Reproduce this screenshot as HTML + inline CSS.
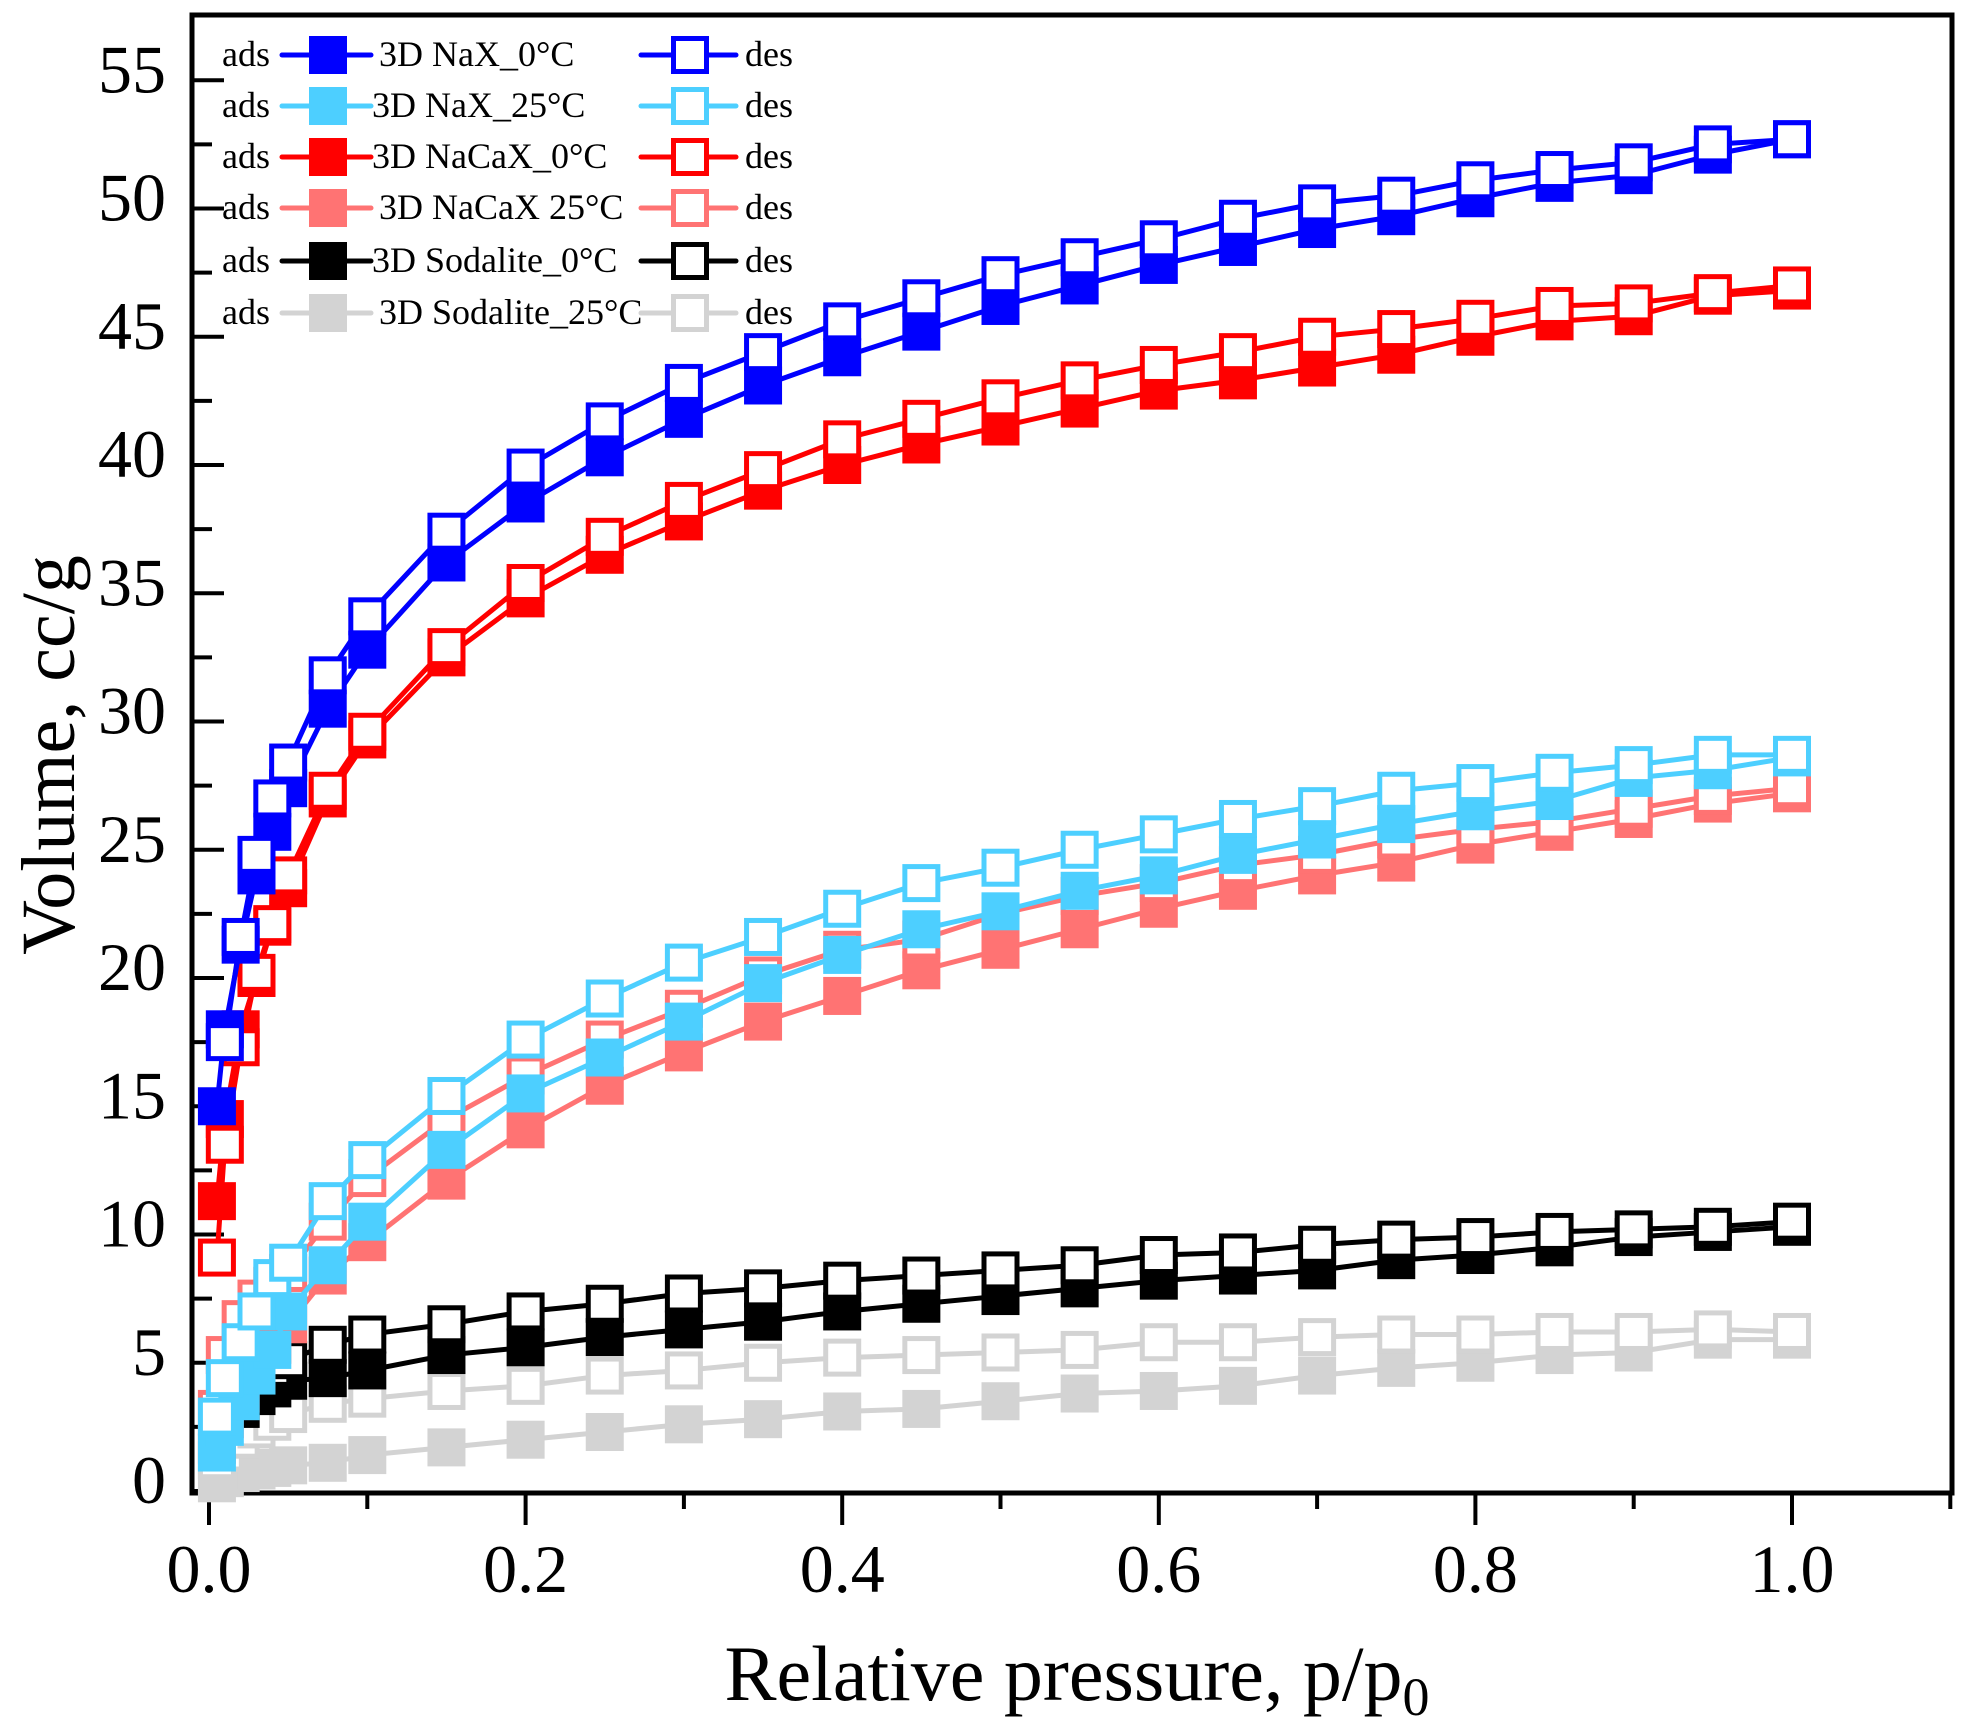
<!DOCTYPE html>
<html><head><meta charset="utf-8"><style>
html,body{margin:0;padding:0;background:#fff;}
svg{display:block;font-family:"Liberation Serif",serif;}
</style></head><body>
<svg id="chart" width="1965" height="1722" viewBox="0 0 1965 1722" xmlns="http://www.w3.org/2000/svg">
<g id="axes"></g>
<g id="plot"></g>
<g id="legend"></g>
<text x="1077" y="1700" font-size="78" text-anchor="middle">Relative pressure, p/p<tspan font-size="54" dy="15">0</tspan></text>
<text transform="translate(74,755) rotate(-90)" font-size="76" text-anchor="middle">Volume, cc/g</text>
</svg>
<script>
const xVals = [0.005,0.01,0.02,0.03,0.04,0.05,0.075,0.1,0.15,0.2,0.25,0.3,0.35,0.4,0.45,0.5,0.55,0.6,0.65,0.7,0.75,0.8,0.85,0.9,0.95,1.0];
const naX0Ads = [15,18,21.3,24,25.7,27.4,30.5,32.8,36.2,38.5,40.3,41.8,43.1,44.2,45.2,46.2,47,47.8,48.5,49.2,49.7,50.4,51,51.3,52.1,52.7];
const naX0Des = [null,17.5,21.6,24.8,27,28.4,31.8,34.1,37.4,39.9,41.7,43.2,44.4,45.6,46.5,47.4,48.1,48.8,49.6,50.2,50.5,51.1,51.5,51.8,52.5,52.7];
const naX25Ads = [1.5,2.5,3.5,4.5,5.5,7,8.8,10.5,13.3,15.5,16.9,18.3,19.8,20.9,21.9,22.6,23.4,24,24.8,25.4,26,26.5,26.9,27.8,28.1,28.6];
const naX25Des = [2.9,4.4,5.8,7.0,8.3,8.9,11.3,12.9,15.4,17.6,19.2,20.6,21.6,22.7,23.7,24.3,25,25.6,26.2,26.7,27.3,27.6,28,28.3,28.7,28.7];
const naCaX0Ads = [11.3,14.5,18,20,22,23.5,27,29.3,32.5,34.8,36.5,37.8,39,40,40.8,41.5,42.2,42.9,43.3,43.8,44.3,45,45.6,45.8,46.6,46.8];
const naCaX0Des = [9.1,13.5,17.3,20.2,22.1,24,27.3,29.6,32.9,35.4,37.2,38.6,39.8,41,41.8,42.6,43.3,43.9,44.4,45,45.3,45.7,46.2,46.3,46.7,47.0];
const naCaX25Ads = [1.8,2.8,3.8,4.8,5.7,6.5,8.4,9.7,12.1,14.1,15.8,17.1,18.3,19.3,20.3,21.1,21.9,22.7,23.4,24,24.5,25.2,25.7,26.2,26.8,27.2];
const naCaX25Des = [3.2,5.3,6.7,7.5,8,8.5,10.5,12.2,14.5,16.2,17.6,18.8,20.1,21.1,21.5,22.5,23.2,23.7,24.4,24.8,25.4,25.8,26.1,26.6,27.1,27.4];
const sod0Ads = [null,null,3.2,3.7,4.0,4.3,4.4,4.7,5.3,5.6,6,6.3,6.6,7,7.3,7.6,7.9,8.2,8.4,8.6,9,9.2,9.5,9.9,10.1,10.3];
const sod0Des = [null,null,null,null,4.8,5.1,5.7,6.1,6.5,7,7.3,7.7,7.9,8.2,8.4,8.6,8.8,9.2,9.3,9.6,9.8,9.9,10.1,10.2,10.3,10.5];
const sod25Ads = [0.3,0.5,0.7,0.8,0.9,1.0,1.1,1.4,1.7,2.0,2.3,2.6,2.8,3.1,3.2,3.5,3.8,3.9,4.1,4.5,4.8,5.0,5.3,5.4,5.9,5.9];
const sod25Des = [1.2,1.5,2.0,2.4,2.7,3.0,3.4,3.6,3.9,4.1,4.5,4.7,5.0,5.2,5.3,5.4,5.5,5.8,5.8,6.0,6.1,6.1,6.2,6.2,6.3,6.2];
const seriesNames = ["3D NaX_0\u00B0C","3D  NaX_25\u00B0C","3D  NaCaX_0\u00B0C","3D NaCaX 25\u00B0C","3D  Sodalite_0\u00B0C","3D Sodalite_25\u00B0C"];
const xTicks = [0,0.2,0.4,0.6,0.8,1.0];
const xTickLabels = ["0.0","0.2","0.4","0.6","0.8","1.0"];
const yTicks = [0,5,10,15,20,25,30,35,40,45,50,55];
const yTickLabels = ["0","5","10","15","20","25","30","35","40","45","50","55"];

const NS="http://www.w3.org/2000/svg";
const L=192,R=1952,T=15,B=1493;
function xs(v){return 209+(v-0)*(1792-209);}
function ys(v){return 1491-v*25.65;}
function mk(tag,attrs,parent){const e=document.createElementNS(NS,tag);for(const k in attrs)e.setAttribute(k,attrs[k]);parent.appendChild(e);return e;}

const axes=document.getElementById('axes');
for(let i=0;i<=11;i++){
  const v=i*0.1,x=xs(v),maj=(i%2===0);
  const t=mk('line',{x1:x,y1:B,x2:x,y2:B+(maj?32:16),stroke:'#000','stroke-width':4},axes);
  
  
}
xTicks.forEach((v,i)=>{
  const t=mk('text',{x:xs(v),y:1592,'font-size':68,'text-anchor':'middle'},axes);
  t.textContent=xTickLabels[i];
  
  
});
for(let i=0;i<=22;i++){
  const v=i*2.5,y=ys(v),maj=(i%2===0);
  const t=mk('line',{x1:L,y1:y,x2:L+(maj?32:20),y2:y,stroke:'#000','stroke-width':4},axes);
  
  
}
yTicks.forEach((v,i)=>{
  const t=mk('text',{x:166,y:ys(v)+12,'font-size':68,'text-anchor':'end'},axes);
  t.textContent=yTickLabels[i];
  
  
});
const frame=mk('rect',{x:L,y:T,width:R-L,height:B-T,fill:'none',stroke:'#000','stroke-width':5},axes);



const plot=document.getElementById('plot');
const S=38;
function drawSeries(vals,color,filled,name){
  const g=mk('g',{},plot);
  
  
  const pts=[];
  vals.forEach((v,i)=>{if(v!==null)pts.push([xs(xVals[i]),ys(v)]);});
  const pl=mk('polyline',{points:pts.map(p=>p.join(',')).join(' '),fill:'none',stroke:color,'stroke-width':5,'stroke-linejoin':'round'},g);
  
  
  pts.forEach(p=>{
    let r;
    if(filled) r=mk('rect',{x:p[0]-S/2,y:p[1]-S/2,width:S,height:S,fill:color},g);
    else r=mk('rect',{x:p[0]-S/2+2.5,y:p[1]-S/2+2.5,width:S-5,height:S-5,fill:'#fff',stroke:color,'stroke-width':5},g);
    
    
  });
}
const C=['#0000ff','#4dcfff','#ff0000','#ff7373','#000000','#d3d3d3'];
drawSeries(sod25Ads,C[5],true,'sodalite-25-ads');
drawSeries(sod25Des,C[5],false,'sodalite-25-des');
drawSeries(sod0Ads,C[4],true,'sodalite-0-ads');
drawSeries(sod0Des,C[4],false,'sodalite-0-des');
drawSeries(naCaX25Ads,C[3],true,'nacax-25-ads');
drawSeries(naCaX25Des,C[3],false,'nacax-25-des');
drawSeries(naX25Ads,C[1],true,'nax-25-ads');
drawSeries(naX25Des,C[1],false,'nax-25-des');
drawSeries(naCaX0Ads,C[2],true,'nacax-0-ads');
drawSeries(naCaX0Des,C[2],false,'nacax-0-des');
drawSeries(naX0Ads,C[0],true,'nax-0-ads');
drawSeries(naX0Des,C[0],false,'nax-0-des');

const lg=document.getElementById('legend');
const rows=[55,106,157,208,261,313];
const labX=[379,372,372,379,372,379];
rows.forEach((y,i)=>{
  const g=mk('g',{},lg);
  
  
  const a=mk('text',{x:222,y:y+11,'font-size':36},g);a.textContent='ads';
  mk('line',{x1:282,y1:y,x2:371,y2:y,stroke:C[i],'stroke-width':5,'stroke-linecap':'round'},g);
  mk('rect',{x:309,y:y-19,width:38,height:38,fill:C[i]},g);
  const t=mk('text',{x:labX[i],y:y+11,'font-size':36},g);t.textContent=seriesNames[i];
  mk('line',{x1:641,y1:y,x2:736,y2:y,stroke:C[i],'stroke-width':5,'stroke-linecap':'round'},g);
  mk('rect',{x:673.5,y:y-16.5,width:33,height:33,fill:'#fff',stroke:C[i],'stroke-width':5},g);
  const d=mk('text',{x:745,y:y+11,'font-size':36},g);d.textContent='des';
});
</script>
</body></html>
